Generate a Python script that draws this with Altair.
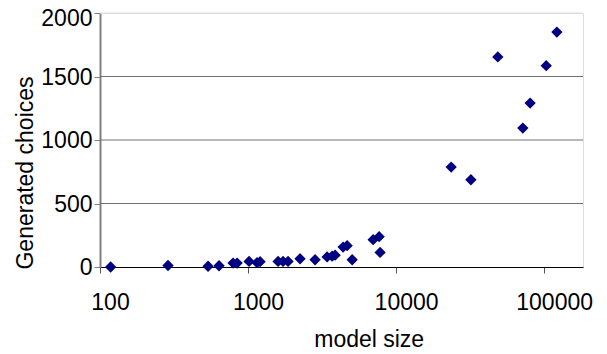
import altair as alt
import pandas as pd

model_size = [118, 288, 537, 637, 792, 844, 1016, 1151, 1206, 1595, 1723, 1863,
              2245, 2836, 3420, 3697, 3873, 4387, 4669, 5050, 6998, 7680, 7797,
              23550, 32000, 48650, 71800, 80400, 103300, 121900]
generated_choices = [0, 12, 6, 10, 31, 31, 44, 34, 42, 44, 44, 44,
                     65, 57, 79, 85, 93, 157, 168, 57, 215, 239, 115,
                     787, 687, 1654, 1094, 1291, 1585, 1850]
x_ticks = [100, 1000, 10000, 100000]
y_ticks = [0, 500, 1000, 1500, 2000]
grid_values = [500, 1000, 1500, 2000]
grid_kind = ["inner", "inner", "inner", "top"]

df = pd.DataFrame({"size": model_size, "choices": generated_choices})
grid_df = pd.DataFrame({"g": grid_values, "kind": grid_kind})

FONT = "Liberation Sans"

yscale = alt.Scale(domain=[0, 2000], nice=False)
yaxis = alt.Axis(values=y_ticks, grid=False, format="d",
                 tickSize=6, tickColor="#808080",
                 domainColor="#808080", domainWidth=2,
                 labelFontSize=23, labelFont=FONT, labelColor="#000000",
                 labelPadding=2,
                 labelOffset={"condition": {"test": "datum.value == 2000", "value": 5},
                              "value": 0.5},
                 title="Generated choices", titleFont=FONT, titleFontSize=23,
                 titleFontWeight="normal", titleColor="#000000",
                 titleAngle=-90, titleX=-68, titleY=159.5,
                 titleBaseline="alphabetic", titleAlign="center")

grid = alt.Chart(grid_df).mark_rule(strokeWidth=1).encode(
    y=alt.Y("g:Q", scale=yscale, axis=yaxis),
    color=alt.Color("kind:N",
                    scale=alt.Scale(domain=["inner", "top"], range=["#707070", "#e0e0e0"]),
                    legend=None),
)

points = alt.Chart(df).mark_point(
    shape="diamond", filled=True, size=128, color="#000080", opacity=1
).encode(
    x=alt.X("size:Q",
            scale=alt.Scale(type="log", domain=[100, 183000], nice=False),
            axis=alt.Axis(values=x_ticks, format="d", grid=False,
                          tickSize=6, tickColor="#555555", domainColor="#000000",
                          labelFontSize=23, labelFont=FONT, labelColor="#000000",
                          labelOffset=10, labelPadding=18, labelBaseline="top",
                          labelFlush=False,
                          title="model size", titleFont=FONT, titleFontSize=23,
                          titleFontWeight="normal", titleColor="#000000",
                          titleX=268.7, titleY=79, titleBaseline="alphabetic",
                          titleAlign="center")),
    y=alt.Y("choices:Q", scale=yscale, axis=yaxis),
)

chart = alt.layer(grid, points).properties(
    width=483, height=254,
    autosize=alt.AutoSizeParams(type="none"),
    padding={"left": 92, "top": 5, "right": 16, "bottom": 87},
).configure_view(stroke=None).configure(background="white")

chart.save("out.html", embed_options={"renderer": "svg", "actions": False})
